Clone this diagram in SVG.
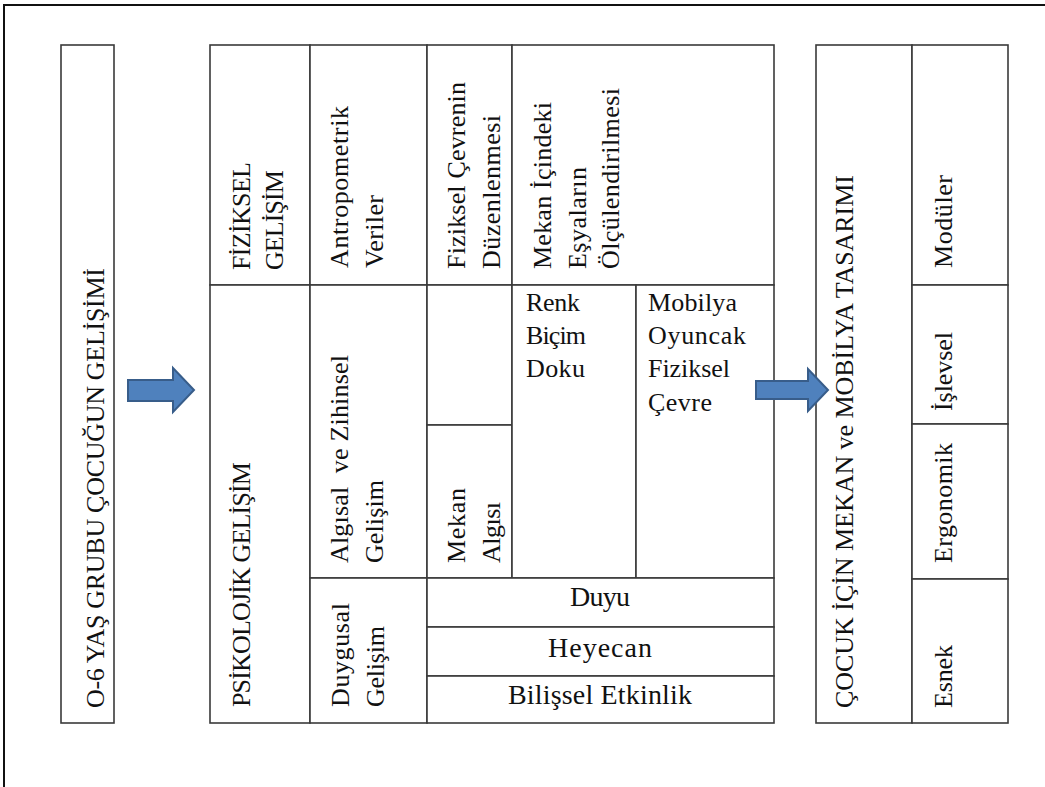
<svg xmlns="http://www.w3.org/2000/svg" width="1045" height="787" viewBox="0 0 1045 787">
<defs>
<style>
.cell{fill:#ffffff;stroke:#3a3a3a;stroke-width:1.6}
.t{font-family:"Liberation Serif","Times New Roman",serif;font-size:26px;fill:#111111}
.h{font-family:"Liberation Serif","Times New Roman",serif;font-size:26px;fill:#111111}
.b{font-family:"Liberation Serif","Times New Roman",serif;font-size:28px;fill:#111111}
.arrow{fill:#4F81BD;stroke:#385D8A;stroke-width:2;stroke-linejoin:miter}
</style>
</defs>
<rect x="0" y="0" width="1045" height="787" fill="#ffffff"/>
<rect x="4" y="5" width="1100" height="900" fill="none" stroke="#111111" stroke-width="2"/>

<g id="node-cocuk-gelisimi">
<rect class="cell" x="61" y="45" width="53" height="678"/>
<text class="t" transform="translate(104,708) rotate(-90)" textLength="440">O-6 YAŞ GRUBU ÇOCUĞUN GELİŞİMİ</text>
</g>

<g id="node-fiziksel-gelisim">
<rect class="cell" x="210" y="45" width="100" height="240"/>
<text class="t" transform="translate(250,270) rotate(-90)" textLength="108">FİZİKSEL</text>
<text class="t" transform="translate(283,270) rotate(-90)" textLength="100">GELİŞİM</text>
</g>

<g id="node-antropometrik">
<rect class="cell" x="310" y="45" width="117" height="240"/>
<text class="t" transform="translate(348,268) rotate(-90)" textLength="162">Antropometrik</text>
<text class="t" transform="translate(383,268) rotate(-90)" textLength="73">Veriler</text>
</g>

<g id="node-fiziksel-cevre">
<rect class="cell" x="427" y="45" width="85" height="240"/>
<text class="t" transform="translate(465,269) rotate(-90)" textLength="187">Fiziksel Çevrenin</text>
<text class="t" transform="translate(500,269) rotate(-90)" textLength="154">Düzenlenmesi</text>
</g>

<g id="node-olculendirme">
<rect class="cell" x="512" y="45" width="262" height="240"/>
<text class="t" transform="translate(551,269) rotate(-90)" textLength="167">Mekan İçindeki</text>
<text class="t" transform="translate(586,269) rotate(-90)" textLength="102">Eşyaların</text>
<text class="t" transform="translate(619,269) rotate(-90)" textLength="181">Ölçülendirilmesi</text>
</g>

<g id="node-psikolojik-gelisim">
<rect class="cell" x="210" y="285" width="100" height="438"/>
<text class="t" transform="translate(250,707) rotate(-90)" textLength="245">PSİKOLOJİK GELİŞİM</text>
</g>

<g id="node-algisal-gelisim">
<rect class="cell" x="310" y="285" width="117" height="293"/>
<text class="t" transform="translate(348,563) rotate(-90)" textLength="208" xml:space="preserve">Algısal  ve Zihinsel</text>
<text class="t" transform="translate(383,563) rotate(-90)" textLength="83">Gelişim</text>
</g>

<g id="node-bos">
<rect class="cell" x="427" y="285" width="85" height="140"/>
</g>

<g id="node-mekan-algisi">
<rect class="cell" x="427" y="425" width="85" height="153"/>
<text class="t" transform="translate(465,563) rotate(-90)" textLength="75">Mekan</text>
<text class="t" transform="translate(500,563) rotate(-90)" textLength="61">Algısı</text>
</g>

<g id="node-renk-bicim-doku">
<rect class="cell" x="512" y="285" width="124" height="293"/>
<text class="h" x="526" y="311" textLength="54">Renk</text>
<text class="h" x="526" y="344" textLength="60">Biçim</text>
<text class="h" x="526" y="377" textLength="59">Doku</text>
</g>

<g id="node-mobilya-oyuncak">
<rect class="cell" x="636" y="285" width="138" height="293"/>
<text class="h" x="648" y="311" textLength="89">Mobilya</text>
<text class="h" x="648" y="344" textLength="98">Oyuncak</text>
<text class="h" x="648" y="377" textLength="82">Fiziksel</text>
<text class="h" x="648" y="411" textLength="64">Çevre</text>
</g>

<g id="node-duygusal-gelisim">
<rect class="cell" x="310" y="578" width="117" height="145"/>
<text class="t" transform="translate(349,707) rotate(-90)" textLength="104">Duygusal</text>
<text class="t" transform="translate(384,707) rotate(-90)" textLength="81">Gelişim</text>
</g>

<g id="node-duyu">
<rect class="cell" x="427" y="578" width="347" height="49"/>
<text class="b" x="600" y="606" text-anchor="middle" textLength="60">Duyu</text>
</g>

<g id="node-heyecan">
<rect class="cell" x="427" y="627" width="347" height="49"/>
<text class="b" x="600" y="657" text-anchor="middle" textLength="104">Heyecan</text>
</g>

<g id="node-bilissel-etkinlik">
<rect class="cell" x="427" y="676" width="347" height="47"/>
<text class="b" x="600" y="704" text-anchor="middle" textLength="184">Bilişsel Etkinlik</text>
</g>

<g id="node-tasarim">
<rect class="cell" x="816" y="45" width="96" height="678"/>
<text class="t" transform="translate(853,708) rotate(-90)" textLength="533">ÇOCUK İÇİN MEKAN ve MOBİLYA TASARIMI</text>
</g>

<g id="node-moduler">
<rect class="cell" x="912" y="45" width="96" height="240"/>
<text class="t" transform="translate(952,268) rotate(-90)" textLength="93">Modüler</text>
</g>

<g id="node-islevsel">
<rect class="cell" x="912" y="285" width="96" height="139"/>
<text class="t" transform="translate(952,411) rotate(-90)" textLength="79">İşlevsel</text>
</g>

<g id="node-ergonomik">
<rect class="cell" x="912" y="424" width="96" height="155"/>
<text class="t" transform="translate(952,563) rotate(-90)" textLength="120">Ergonomik</text>
</g>

<g id="node-esnek">
<rect class="cell" x="912" y="579" width="96" height="144"/>
<text class="t" transform="translate(952,708) rotate(-90)" textLength="63">Esnek</text>
</g>

<g id="connectors">
<path class="arrow" d="M128,380 L173,380 L173,368 L194,390 L173,412 L173,401 L128,401 Z"/>
<path class="arrow" d="M756,381 L808,381 L808,369 L828,390 L808,411 L808,399 L756,399 Z"/>
</g>
</svg>
